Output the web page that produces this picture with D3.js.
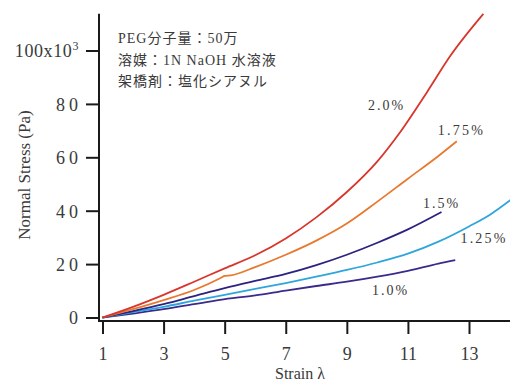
<!DOCTYPE html>
<html>
<head>
<meta charset="utf-8">
<script src="https://cdn.jsdelivr.net/npm/d3@7"></script>
<style>
  body { margin: 0; background: #fff; }
  svg { display: block; }
</style>
</head>
<body>
<script>
// Data
var series = ["1.0%", "1.25%", "1.5%", "1.75%", "2.0%"];
var colors = ["#3b2a8c", "#2ea6dc", "#2c2280", "#e8792f", "#d8362b"];

// strain values and normal stress (x10^3 Pa) for each curve
var strain10 = [1, 2, 3, 4, 4.85, 6, 7, 8, 9, 10, 11, 12, 12.55];
var stress10 = [0, 1.5, 3.1, 5.0, 6.6, 8.3, 10.1, 11.8, 13.4, 15.3, 17.5, 20.2, 21.5];

var strain125 = [1, 2, 3, 4, 5, 6, 7, 8, 9, 10, 11, 12, 13, 13.7, 14.36];
var stress125 = [0, 2.0, 4.0, 6.3, 8.5, 10.7, 12.9, 15.3, 17.8, 20.6, 23.9, 28.4, 34.1, 38.6, 44];

var strain15 = [1, 2, 3, 4, 5, 6, 7, 8, 9, 10, 11, 12.1];
var stress15 = [0, 2.4, 5.0, 8.0, 11.0, 13.7, 16.3, 19.6, 23.5, 28.0, 33.0, 39.5];

var strain175 = [1, 2, 3, 4, 4.9, 5.0, 5.2, 6, 7, 8, 9, 10, 11, 12, 12.6];
var stress175 = [0, 3.1, 6.5, 10.3, 15.0, 15.6, 15.8, 18.9, 23.5, 28.8, 35.2, 43.4, 52.0, 60.5, 66];

var strain20 = [1, 2, 3, 4, 5, 6, 7, 8, 9, 10, 10.75, 11.63, 12.39, 13.47];
var stress20 = [0, 4.0, 8.5, 13.4, 18.4, 23.3, 29.6, 37.5, 47, 58.5, 69.5, 84.5, 98, 113.7];

var xTicks = [1, 3, 5, 7, 9, 11, 13];
var yTicks = [0, 20, 40, 60, 80, 100];

// label anchors in data units (strain, stress)
var labelStrain = [9.82, 12.72, 11.49, 11.98, 9.69];
var labelStress = [8.4, 27.9, 41.0, 68.4, 77.7];

var notes = ["PEG分子量：50万", "溶媒：1N NaOH 水溶液", "架橋剤：塩化シアヌル"];

// SVG
var width = 510, height = 381;
var svg = d3.select("body").append("svg").attr("width", width).attr("height", height);

var x = d3.scaleLinear().domain([1, 13]).range([102.5, 469]);
var y = d3.scaleLinear().domain([0, 100]).range([317.5, 50.5]);

var axisColor = "#1a1a1a";
var textColor = "#3a3a3a";
var serif = "'Liberation Serif', 'Times New Roman', serif";

// Curves
var curves = [
    d3.zip(strain10, stress10),
    d3.zip(strain125, stress125),
    d3.zip(strain15, stress15),
    d3.zip(strain175, stress175),
    d3.zip(strain20, stress20)
];

var line = d3.line()
    .x(function(d) { return x(d[0]); })
    .y(function(d) { return y(d[1]); })
    .curve(d3.curveMonotoneX);

svg.append("g").selectAll("path").data(curves).enter().append("path")
    .attr("d", line)
    .attr("fill", "none")
    .attr("stroke", function(d, i) { return colors[i]; })
    .attr("stroke-width", 1.8)
    .attr("stroke-linejoin", "round");

// Y axis
var yAxis = svg.append("g").attr("transform", "translate(99,0)")
    .call(d3.axisLeft(y).tickValues(yTicks).tickSize(13).tickPadding(4)
        .tickFormat(function(d) { return d == 100 ? "" : d; }));
yAxis.select(".domain").remove();
yAxis.selectAll(".tick line").attr("stroke", axisColor).attr("stroke-width", 2);
yAxis.selectAll(".tick text")
    .attr("font-family", serif).attr("font-size", 18).attr("fill", textColor)
    .attr("letter-spacing", 4).attr("dy", "0.35em");
var topLabel = yAxis.selectAll(".tick").filter(function(d) { return d == 100; }).select("text")
    .attr("letter-spacing", 0.6).attr("x", -20);
topLabel.append("tspan").text("100x10");
topLabel.append("tspan").attr("font-size", 12).attr("dy", -7).text("3");

svg.append("line")
    .attr("x1", 99).attr("x2", 99)
    .attr("y1", y(113.8)).attr("y2", 321)
    .attr("stroke", axisColor).attr("stroke-width", 2);

// X axis
var xAxis = svg.append("g").attr("transform", "translate(0,321)")
    .call(d3.axisBottom(x).tickValues(xTicks).tickSize(13).tickPadding(13));
xAxis.select(".domain").remove();
xAxis.selectAll(".tick line").attr("stroke", axisColor).attr("stroke-width", 2);
xAxis.selectAll(".tick text")
    .attr("font-family", serif).attr("font-size", 18).attr("fill", textColor);

svg.append("line")
    .attr("x1", 98).attr("x2", width)
    .attr("y1", 321).attr("y2", 321)
    .attr("stroke", axisColor).attr("stroke-width", 2);

// Axis titles
svg.append("text")
    .attr("transform", "translate(30,175) rotate(-90)")
    .attr("text-anchor", "middle")
    .attr("font-family", serif).attr("font-size", 17).attr("fill", textColor)
    .text("Normal Stress (Pa)");

svg.append("text")
    .attr("x", 300).attr("y", 379)
    .attr("text-anchor", "middle")
    .attr("font-family", serif).attr("font-size", 16).attr("fill", textColor)
    .text("Strain λ");

// Curve labels
svg.append("g").selectAll("text").data(series).enter().append("text")
    .attr("x", function(d, i) { return x(labelStrain[i]); })
    .attr("y", function(d, i) { return y(labelStress[i]); })
    .attr("font-family", serif).attr("font-size", 14).attr("fill", textColor)
    .attr("letter-spacing", function(d) { return d.length > 4 ? 2.2 : 2; })
    .text(function(d) { return d; });

// Notes
svg.append("g").selectAll("text").data(notes).enter().append("text")
    .attr("x", 118)
    .attr("y", function(d, i) { return 43 + i * 21.5; })
    .attr("font-family", "'Liberation Serif', 'Noto Sans CJK JP', serif")
    .attr("font-size", 14).attr("fill", textColor)
    .attr("letter-spacing", 1)
    .text(function(d) { return d; });
</script>
</body>
</html>
